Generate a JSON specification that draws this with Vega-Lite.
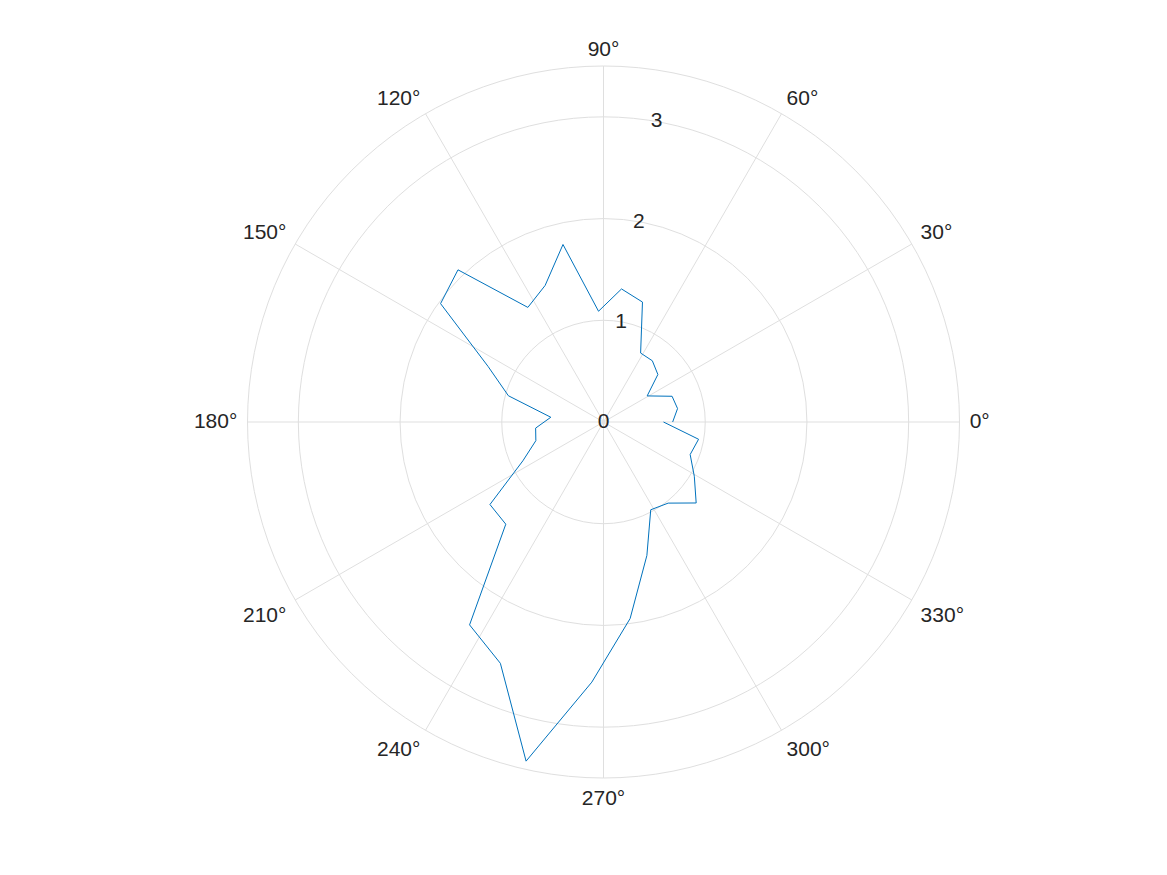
{
  "$schema": "https://vega.github.io/schema/vega-lite/v6.json",
  "width": 712,
  "height": 712,
  "autosize": {"type": "none"},
  "padding": {"left": 247.5, "top": 66, "right": 207.5, "bottom": 97},
  "background": "white",
  "view": {"stroke": null},
  "config": {"text": {"font": "Liberation Sans", "fontSize": 21, "color": "#262626"}},
  "datasets": {
    "series": [
      {"k": 0, "deg": 0, "r": 0.68},
      {"k": 1, "deg": 10.2857, "r": 0.74},
      {"k": 2, "deg": 20.5714, "r": 0.72},
      {"k": 3, "deg": 30.8571, "r": 0.50},
      {"k": 4, "deg": 41.1429, "r": 0.71},
      {"k": 5, "deg": 51.4286, "r": 0.77},
      {"k": 6, "deg": 61.7143, "r": 0.77},
      {"k": 7, "deg": 72.0, "r": 1.24},
      {"k": 8, "deg": 82.2857, "r": 1.32},
      {"k": 9, "deg": 92.5714, "r": 1.09},
      {"k": 10, "deg": 102.8571, "r": 1.79},
      {"k": 11, "deg": 113.1429, "r": 1.46},
      {"k": 12, "deg": 123.4286, "r": 1.35},
      {"k": 13, "deg": 133.7143, "r": 2.07},
      {"k": 14, "deg": 144.0, "r": 1.98},
      {"k": 15, "deg": 154.2857, "r": 1.26},
      {"k": 16, "deg": 164.5714, "r": 0.97},
      {"k": 17, "deg": 174.8571, "r": 0.52},
      {"k": 18, "deg": 185.1429, "r": 0.67},
      {"k": 19, "deg": 195.4286, "r": 0.69},
      {"k": 20, "deg": 205.7143, "r": 0.88},
      {"k": 21, "deg": 216.0, "r": 1.38},
      {"k": 22, "deg": 226.2857, "r": 1.39},
      {"k": 23, "deg": 236.5714, "r": 2.39},
      {"k": 24, "deg": 246.8571, "r": 2.58},
      {"k": 25, "deg": 257.1429, "r": 3.42},
      {"k": 26, "deg": 267.4286, "r": 2.56},
      {"k": 27, "deg": 277.7143, "r": 1.95},
      {"k": 28, "deg": 288.0, "r": 1.38},
      {"k": 29, "deg": 298.2857, "r": 0.98},
      {"k": 30, "deg": 308.5714, "r": 1.02},
      {"k": 31, "deg": 318.8571, "r": 1.21},
      {"k": 32, "deg": 329.1429, "r": 1.04},
      {"k": 33, "deg": 339.4286, "r": 0.91},
      {"k": 34, "deg": 349.7143, "r": 0.95},
      {"k": 35, "deg": 360.0, "r": 0.59}
    ],
    "spokes": [{"deg": 0}, {"deg": 30}, {"deg": 60}, {"deg": 90}, {"deg": 120}, {"deg": 150}],
    "rings": [{"r": 1}, {"r": 2}, {"r": 3}, {"r": 3.5}],
    "rlabels": [{"r": 0, "label": "0"}, {"r": 1, "label": "1"}, {"r": 2, "label": "2"}, {"r": 3, "label": "3"}],
    "angles": [
      {"deg": 0, "label": "0°"}, {"deg": 30, "label": "30°"}, {"deg": 60, "label": "60°"},
      {"deg": 90, "label": "90°"}, {"deg": 120, "label": "120°"}, {"deg": 150, "label": "150°"},
      {"deg": 180, "label": "180°"}, {"deg": 210, "label": "210°"}, {"deg": 240, "label": "240°"},
      {"deg": 270, "label": "270°"}, {"deg": 300, "label": "300°"}, {"deg": 330, "label": "330°"}
    ]
  },
  "layer": [
    {
      "data": {"name": "spokes"},
      "transform": [
        {"calculate": "3.5*cos(datum.deg*PI/180)", "as": "x"},
        {"calculate": "3.5*sin(datum.deg*PI/180)", "as": "y"},
        {"calculate": "-datum.x", "as": "x2"},
        {"calculate": "-datum.y", "as": "y2"}
      ],
      "mark": {"type": "rule", "color": "#dfdfdf", "strokeWidth": 1},
      "encoding": {
        "x": {"field": "x", "type": "quantitative", "scale": {"domain": [-3.5, 3.5], "nice": false, "zero": false}, "axis": null},
        "y": {"field": "y", "type": "quantitative", "scale": {"domain": [-3.5, 3.5], "nice": false, "zero": false}, "axis": null},
        "x2": {"field": "x2"},
        "y2": {"field": "y2"}
      }
    },
    {
      "data": {"name": "rings"},
      "mark": {"type": "arc", "filled": false, "fill": null, "stroke": "#dfdfdf", "strokeWidth": 1, "theta": 0, "theta2": 6.2831853},
      "encoding": {
        "radius": {"field": "r", "type": "quantitative", "stack": null, "scale": {"type": "linear", "domain": [0, 3.5], "range": [0, 356], "zero": true}, "legend": null}
      }
    },
    {
      "data": {"name": "series"},
      "transform": [
        {"calculate": "datum.r*cos(datum.deg*PI/180)", "as": "x"},
        {"calculate": "datum.r*sin(datum.deg*PI/180)", "as": "y"}
      ],
      "mark": {"type": "line", "color": "#0072BD", "strokeWidth": 1},
      "encoding": {
        "x": {"field": "x", "type": "quantitative"},
        "y": {"field": "y", "type": "quantitative"},
        "order": {"field": "k", "type": "quantitative"}
      }
    },
    {
      "data": {"name": "rlabels"},
      "transform": [
        {"calculate": "datum.r*cos(80*PI/180)", "as": "x"},
        {"calculate": "datum.r*sin(80*PI/180)", "as": "y"}
      ],
      "mark": {"type": "text", "align": "center", "baseline": "middle"},
      "encoding": {
        "x": {"field": "x", "type": "quantitative"},
        "y": {"field": "y", "type": "quantitative"},
        "text": {"field": "label"}
      }
    },
    {
      "data": {"name": "angles"},
      "transform": [
        {"filter": "datum.deg == 0"},
        {"calculate": "3.6*cos(datum.deg*PI/180)", "as": "x"},
        {"calculate": "3.6*sin(datum.deg*PI/180)", "as": "y"}
      ],
      "mark": {"type": "text", "align": "left", "baseline": "middle"},
      "encoding": {"x": {"field": "x", "type": "quantitative"}, "y": {"field": "y", "type": "quantitative"}, "text": {"field": "label"}}
    },
    {
      "data": {"name": "angles"},
      "transform": [
        {"filter": "datum.deg == 30 || datum.deg == 60"},
        {"calculate": "3.6*cos(datum.deg*PI/180)", "as": "x"},
        {"calculate": "3.6*sin(datum.deg*PI/180)", "as": "y"}
      ],
      "mark": {"type": "text", "align": "left", "baseline": "alphabetic"},
      "encoding": {"x": {"field": "x", "type": "quantitative"}, "y": {"field": "y", "type": "quantitative"}, "text": {"field": "label"}}
    },
    {
      "data": {"name": "angles"},
      "transform": [
        {"filter": "datum.deg == 90"},
        {"calculate": "3.6*cos(datum.deg*PI/180)", "as": "x"},
        {"calculate": "3.6*sin(datum.deg*PI/180)", "as": "y"}
      ],
      "mark": {"type": "text", "align": "center", "baseline": "alphabetic"},
      "encoding": {"x": {"field": "x", "type": "quantitative"}, "y": {"field": "y", "type": "quantitative"}, "text": {"field": "label"}}
    },
    {
      "data": {"name": "angles"},
      "transform": [
        {"filter": "datum.deg == 120 || datum.deg == 150"},
        {"calculate": "3.6*cos(datum.deg*PI/180)", "as": "x"},
        {"calculate": "3.6*sin(datum.deg*PI/180)", "as": "y"}
      ],
      "mark": {"type": "text", "align": "right", "baseline": "alphabetic"},
      "encoding": {"x": {"field": "x", "type": "quantitative"}, "y": {"field": "y", "type": "quantitative"}, "text": {"field": "label"}}
    },
    {
      "data": {"name": "angles"},
      "transform": [
        {"filter": "datum.deg == 180"},
        {"calculate": "3.6*cos(datum.deg*PI/180)", "as": "x"},
        {"calculate": "3.6*sin(datum.deg*PI/180)", "as": "y"}
      ],
      "mark": {"type": "text", "align": "right", "baseline": "middle"},
      "encoding": {"x": {"field": "x", "type": "quantitative"}, "y": {"field": "y", "type": "quantitative"}, "text": {"field": "label"}}
    },
    {
      "data": {"name": "angles"},
      "transform": [
        {"filter": "datum.deg == 210 || datum.deg == 240"},
        {"calculate": "3.6*cos(datum.deg*PI/180)", "as": "x"},
        {"calculate": "3.6*sin(datum.deg*PI/180)", "as": "y"}
      ],
      "mark": {"type": "text", "align": "right", "baseline": "top"},
      "encoding": {"x": {"field": "x", "type": "quantitative"}, "y": {"field": "y", "type": "quantitative"}, "text": {"field": "label"}}
    },
    {
      "data": {"name": "angles"},
      "transform": [
        {"filter": "datum.deg == 270"},
        {"calculate": "3.6*cos(datum.deg*PI/180)", "as": "x"},
        {"calculate": "3.6*sin(datum.deg*PI/180)", "as": "y"}
      ],
      "mark": {"type": "text", "align": "center", "baseline": "top"},
      "encoding": {"x": {"field": "x", "type": "quantitative"}, "y": {"field": "y", "type": "quantitative"}, "text": {"field": "label"}}
    },
    {
      "data": {"name": "angles"},
      "transform": [
        {"filter": "datum.deg == 300 || datum.deg == 330"},
        {"calculate": "3.6*cos(datum.deg*PI/180)", "as": "x"},
        {"calculate": "3.6*sin(datum.deg*PI/180)", "as": "y"}
      ],
      "mark": {"type": "text", "align": "left", "baseline": "top"},
      "encoding": {"x": {"field": "x", "type": "quantitative"}, "y": {"field": "y", "type": "quantitative"}, "text": {"field": "label"}}
    }
  ]
}
